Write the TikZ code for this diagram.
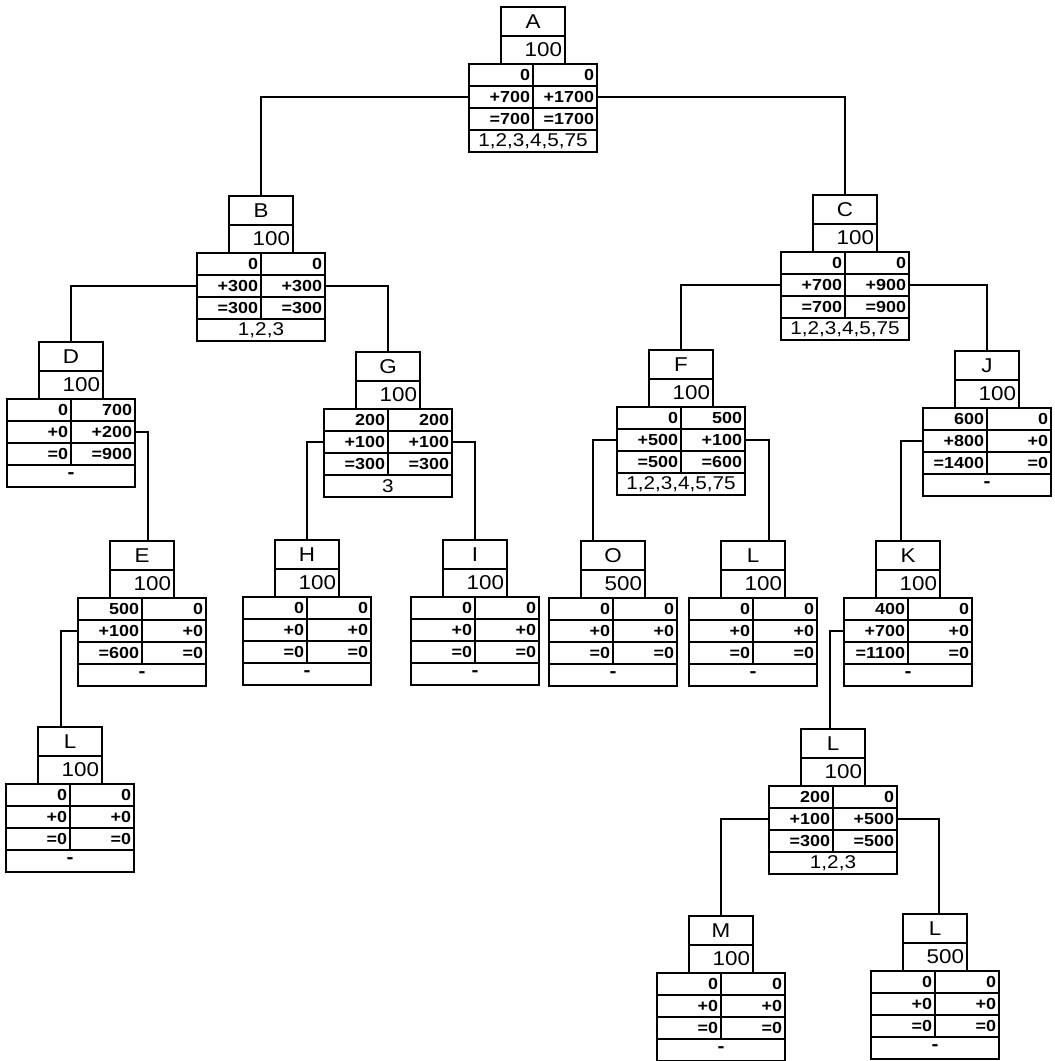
\documentclass[tikz,border=0pt]{standalone}
\usepackage{fontspec}
\setmainfont{Liberation Sans}[FakeStretch=1.12]
\usepackage{tikz}
\usetikzlibrary{positioning}

% one tree node: name, position (top centre), label, value, rows l/r, bottom line
\newcommand{\treenode}[6]{%
  \node[namebox] (#1) at (#2) {#3};
  \node[valbox, below=0pt of #1] (#1-v) {#4};
  \foreach \lc/\rc [count=\i] in {#5} {
    \pgfmathsetmacro\dy{-(\i-1)*22}
    \node[cellbox, anchor=north east] (#1-l\i) at ([yshift=\dy pt]#1-v.south) {\lc};
    \node[cellbox, anchor=north west] (#1-r\i) at ([yshift=\dy pt]#1-v.south) {\rc};
  }
  \node[sumbox, below=0pt of #1-l3.south east] (#1-s) {#6};
}

\begin{document}
\begin{tikzpicture}[
    x=1pt, y=-1pt,
    namebox/.style={rectangle, draw, line width=1.8pt, outer sep=0pt, anchor=north,
                    minimum width=64pt, minimum height=29pt, inner sep=0pt,
                    font=\fontsize{20}{22}\selectfont},
    valbox/.style={rectangle, draw, line width=1.8pt, outer sep=0pt, minimum height=28pt,
                   inner ysep=0pt, inner xsep=3pt, text width=58pt, align=right,
                   font=\fontsize{20}{22}\selectfont},
    cellbox/.style={rectangle, draw, line width=1.8pt, outer sep=0pt, minimum height=22pt,
                    inner ysep=0pt, inner xsep=3pt, text width=58pt, align=right,
                    font=\fontsize{16}{18}\selectfont\bfseries},
    sumbox/.style={rectangle, draw, line width=1.8pt, outer sep=0pt, minimum height=22pt,
                   minimum width=128pt, inner sep=0pt,
                   font=\fontsize{18.5}{20}\selectfont},
    link/.style={line width=1.3pt}
]
\useasboundingbox (0,0) rectangle (1055,1061);

\treenode{A}{533,7}{A}{100}{0/0,+700/+1700,=700/=1700}{1,2,3,4,5,75}
\treenode{B}{261,196}{B}{100}{0/0,+300/+300,=300/=300}{1,2,3}
\treenode{C}{845,195}{C}{100}{0/0,+700/+900,=700/=900}{1,2,3,4,5,75}
\treenode{D}{71,342}{D}{100}{0/700,+0/+200,=0/=900}{\textbf{-}}
\treenode{G}{388,352}{G}{100}{200/200,+100/+100,=300/=300}{3}
\treenode{F}{681,350}{F}{100}{0/500,+500/+100,=500/=600}{1,2,3,4,5,75}
\treenode{J}{987,351}{J}{100}{600/0,+800/+0,=1400/=0}{\textbf{-}}
\treenode{E}{142,541}{E}{100}{500/0,+100/+0,=600/=0}{\textbf{-}}
\treenode{L1}{70,727}{L}{100}{0/0,+0/+0,=0/=0}{\textbf{-}}
\treenode{H}{307,540}{H}{100}{0/0,+0/+0,=0/=0}{\textbf{-}}
\treenode{I}{475,540}{I}{100}{0/0,+0/+0,=0/=0}{\textbf{-}}
\treenode{O}{613,541}{O}{500}{0/0,+0/+0,=0/=0}{\textbf{-}}
\treenode{L2}{753,541}{L}{100}{0/0,+0/+0,=0/=0}{\textbf{-}}
\treenode{K}{908,541}{K}{100}{400/0,+700/+0,=1100/=0}{\textbf{-}}
\treenode{L3}{833,729}{L}{100}{200/0,+100/+500,=300/=500}{1,2,3}
\treenode{M}{721,916}{M}{100}{0/0,+0/+0,=0/=0}{\textbf{-}}
\treenode{L4}{935,914}{L}{500}{0/0,+0/+0,=0/=0}{\textbf{-}}

\draw[link] (A-l2.west) -| (B.north);
\draw[link] (A-r2.east) -| (C.north);
\draw[link] (B-l2.west) -| (D.north);
\draw[link] (B-r2.east) -| (G.north);
\draw[link] (C-l2.west) -| (F.north);
\draw[link] (C-r2.east) -| (J.north);
\draw[link] (D-r2.east) -| ([xshift=6pt]E.north);
\draw[link] (E-l2.west) -| ([xshift=-9pt]L1.north);
\draw[link] (G-l2.west) -| (H.north);
\draw[link] (G-r2.east) -| (I.north);
\draw[link] (F-l2.west) -| ([xshift=-20pt]O.north);
\draw[link] (F-r2.east) -| ([xshift=16pt]L2.north);
\draw[link] (J-l2.west) -| ([xshift=-7pt]K.north);
\draw[link] (K-l2.west) -| ([xshift=-3pt]L3.north);
\draw[link] (L3-l2.west) -| (M.north);
\draw[link] (L3-r2.east) -| ([xshift=4pt]L4.north);

\end{tikzpicture}
\end{document}
